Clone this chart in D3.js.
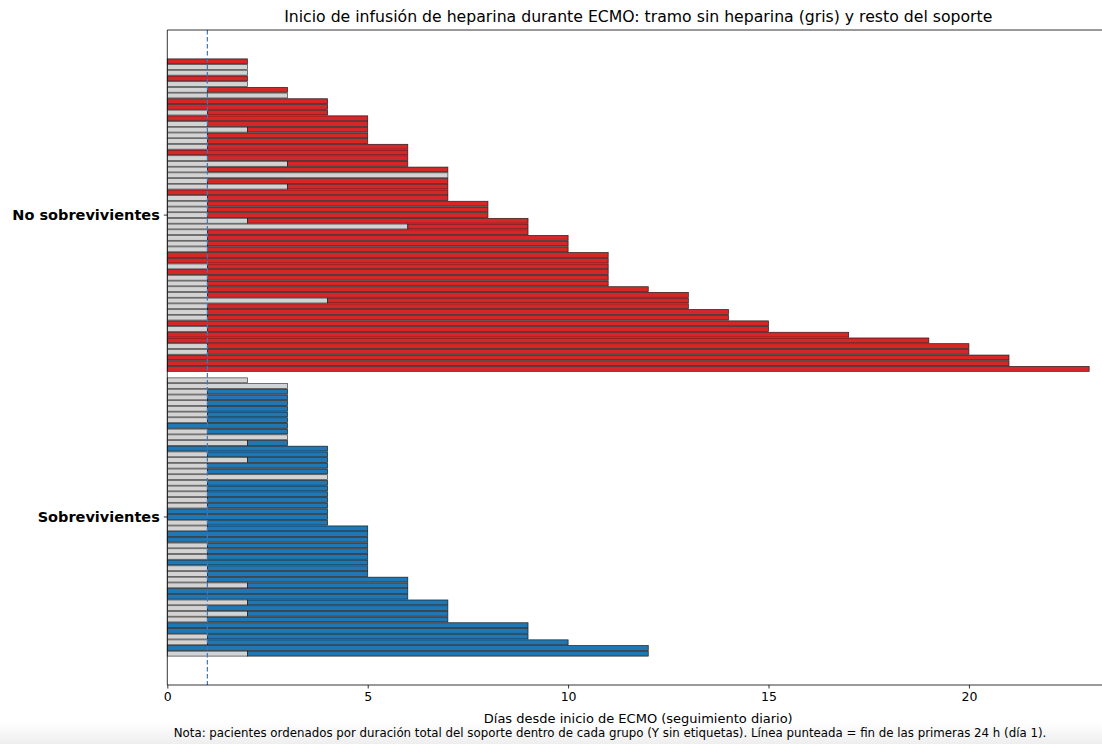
<!DOCTYPE html>
<html>
<head>
<meta charset="utf-8">
<script src="https://cdn.jsdelivr.net/npm/d3@7/dist/d3.min.js"></script>
<style>
  html, body { margin: 0; padding: 0; background: #fff; }
  svg { display: block; font-family: "DejaVu Sans", sans-serif; }
</style>
</head>
<body>
<svg id="chart" width="1102" height="744"></svg>
<script>
// Total ECMO days per patient (sorted ascending within each group)
const noSobTotal = [2,2,2,2,2,3,3,4,4,4,5,5,5,5,5,6,6,6,6,7,7,7,7,7,7,8,8,8,9,9,9,10,10,10,11,11,11,11,11,11,12,13,13,13,14,14,15,15,17,19,20,20,21,21,23];
// Day heparin infusion started (null = never started)
const noSobHep = [0,null,null,0,null,1,null,0,0,1,0,1,2,1,1,1,0,1,3,1,null,1,3,0,1,1,1,1,2,6,1,1,1,1,0,0,1,0,1,1,1,1,4,1,1,1,0,1,0,0,1,1,0,0,0];

const sobTotal = [2,3,3,3,3,3,3,3,3,3,3,3,4,4,4,4,4,4,4,4,4,4,4,4,4,4,5,5,5,5,5,5,5,5,5,6,6,6,6,7,7,7,7,9,9,9,10,12,12];
const sobHep = [null,null,1,1,1,1,1,1,0,1,null,2,0,1,2,1,1,null,1,1,1,1,1,0,0,1,1,0,0,1,1,1,0,1,1,1,2,0,0,2,1,2,1,0,0,1,1,0,2];

const groupNames = ["No sobrevivientes", "Sobrevivientes"];
const groupColors = ["#d62728", "#1f77b4"];
const xTicks = [0, 5, 10, 15, 20];
const firstDayMark = 1;

const titleText = "Inicio de infusión de heparina durante ECMO: tramo sin heparina (gris) y resto del soporte";
const xLabelText = "Días desde inicio de ECMO (seguimiento diario)";
const noteText = "Nota: pacientes ordenados por duración total del soporte dentro de cada grupo (Y sin etiquetas). Línea punteada = fin de las primeras 24 h (día 1).";

// Build one row per patient, with an empty slot separating the groups
const rows = [];
noSobTotal.forEach((t, i) => rows.push({ slot: i, total: t, hep: noSobHep[i], group: 0 }));
const offset = noSobTotal.length + 1;
sobTotal.forEach((t, i) => rows.push({ slot: offset + i, total: t, hep: sobHep[i], group: 1 }));
const lastSlot = offset + sobTotal.length - 1;

const svg = d3.select("#chart");
const W = 1102, H = 744;

// soft grey strip along the bottom edge
const defs = svg.append("defs");
const grad = defs.append("linearGradient").attr("id", "foot").attr("x1", 0).attr("x2", 0).attr("y1", 0).attr("y2", 1);
grad.append("stop").attr("offset", "0%").attr("stop-color", "#ffffff");
grad.append("stop").attr("offset", "100%").attr("stop-color", "#eeeeee");
svg.append("rect").attr("x", 0).attr("y", 722).attr("width", W).attr("height", H - 722).attr("fill", "url(#foot)");

const plot = { left: 167.3, right: 1109.2, top: 30, bottom: 685 };

const x = d3.scaleLinear().domain([0, 23.5]).range([plot.left, plot.right]);
const y = d3.scaleLinear().domain([-5.5, lastSlot + 5.5]).range([plot.top, plot.bottom]);
const slotH = y(1) - y(0);
const barH = slotH * 0.86;

const g = svg.append("g");

// grey segment: time without heparin
g.selectAll("rect.nohep").data(rows.filter(d => d.hep === null || d.hep > 0)).join("rect")
  .attr("class", "nohep")
  .attr("x", x(0))
  .attr("y", d => y(d.slot) - barH / 2)
  .attr("width", d => x(d.hep === null ? d.total : d.hep) - x(0))
  .attr("height", barH)
  .attr("fill", "#d3d3d3")
  .attr("stroke", "#222")
  .attr("stroke-opacity", 0.8)
  .attr("stroke-width", 0.75);

// coloured segment: remaining support with heparin
g.selectAll("rect.hep").data(rows.filter(d => d.hep !== null)).join("rect")
  .attr("class", "hep")
  .attr("x", d => x(d.hep))
  .attr("y", d => y(d.slot) - barH / 2)
  .attr("width", d => x(d.total) - x(d.hep))
  .attr("height", barH)
  .attr("fill", d => groupColors[d.group])
  .attr("stroke", "#111")
  .attr("stroke-opacity", 0.85)
  .attr("stroke-width", 0.75);

// dashed marker at the end of day 1
svg.append("line")
  .attr("x1", x(firstDayMark)).attr("x2", x(firstDayMark))
  .attr("y1", plot.top).attr("y2", plot.bottom)
  .attr("stroke", "#3f77b5")
  .attr("stroke-width", 1.2)
  .attr("stroke-dasharray", "4.5,2.5");

// frame
const frame = svg.append("g").attr("stroke", "#000").attr("stroke-width", 0.8).attr("fill", "none");
frame.append("line").attr("x1", plot.left).attr("x2", plot.right).attr("y1", plot.top).attr("y2", plot.top);
frame.append("line").attr("x1", plot.left).attr("x2", plot.right).attr("y1", plot.bottom).attr("y2", plot.bottom);
frame.append("line").attr("x1", plot.left).attr("x2", plot.left).attr("y1", plot.top).attr("y2", plot.bottom);
frame.append("line").attr("x1", plot.right).attr("x2", plot.right).attr("y1", plot.top).attr("y2", plot.bottom);

// x axis
const xAxis = d3.axisBottom(x).tickValues(xTicks).tickSize(3.5).tickPadding(3.5).tickFormat(d3.format("d"));
const xa = svg.append("g").attr("transform", `translate(0,${plot.bottom})`).call(xAxis);
xa.select(".domain").remove();
xa.selectAll("line").attr("stroke", "#000").attr("stroke-width", 0.8);
xa.selectAll("text").attr("font-size", 12.5).attr("fill", "#000").attr("font-family", "DejaVu Sans");

// y group labels
const groupCenters = [
  (y(0) + y(noSobTotal.length - 1)) / 2,
  (y(offset) + y(lastSlot)) / 2
];
groupNames.forEach((name, i) => {
  svg.append("line")
    .attr("x1", plot.left - 3.5).attr("x2", plot.left)
    .attr("y1", groupCenters[i]).attr("y2", groupCenters[i])
    .attr("stroke", "#000").attr("stroke-width", 0.8);
  svg.append("text")
    .attr("x", plot.left - 7.5)
    .attr("y", groupCenters[i])
    .attr("dy", "0.35em")
    .attr("text-anchor", "end")
    .attr("font-weight", "bold")
    .attr("font-size", 14.5)
    .text(name);
});

// title, axis label, note
svg.append("text")
  .attr("x", (plot.left + plot.right) / 2).attr("y", 21.5)
  .attr("text-anchor", "middle").attr("font-size", 15.7)
  .text(titleText);

svg.append("text")
  .attr("x", (plot.left + plot.right) / 2).attr("y", 723)
  .attr("text-anchor", "middle").attr("font-size", 13)
  .text(xLabelText);

svg.append("text")
  .attr("x", 610).attr("y", 737)
  .attr("text-anchor", "middle").attr("font-size", 11.8)
  .text(noteText);
</script>
</body>
</html>
